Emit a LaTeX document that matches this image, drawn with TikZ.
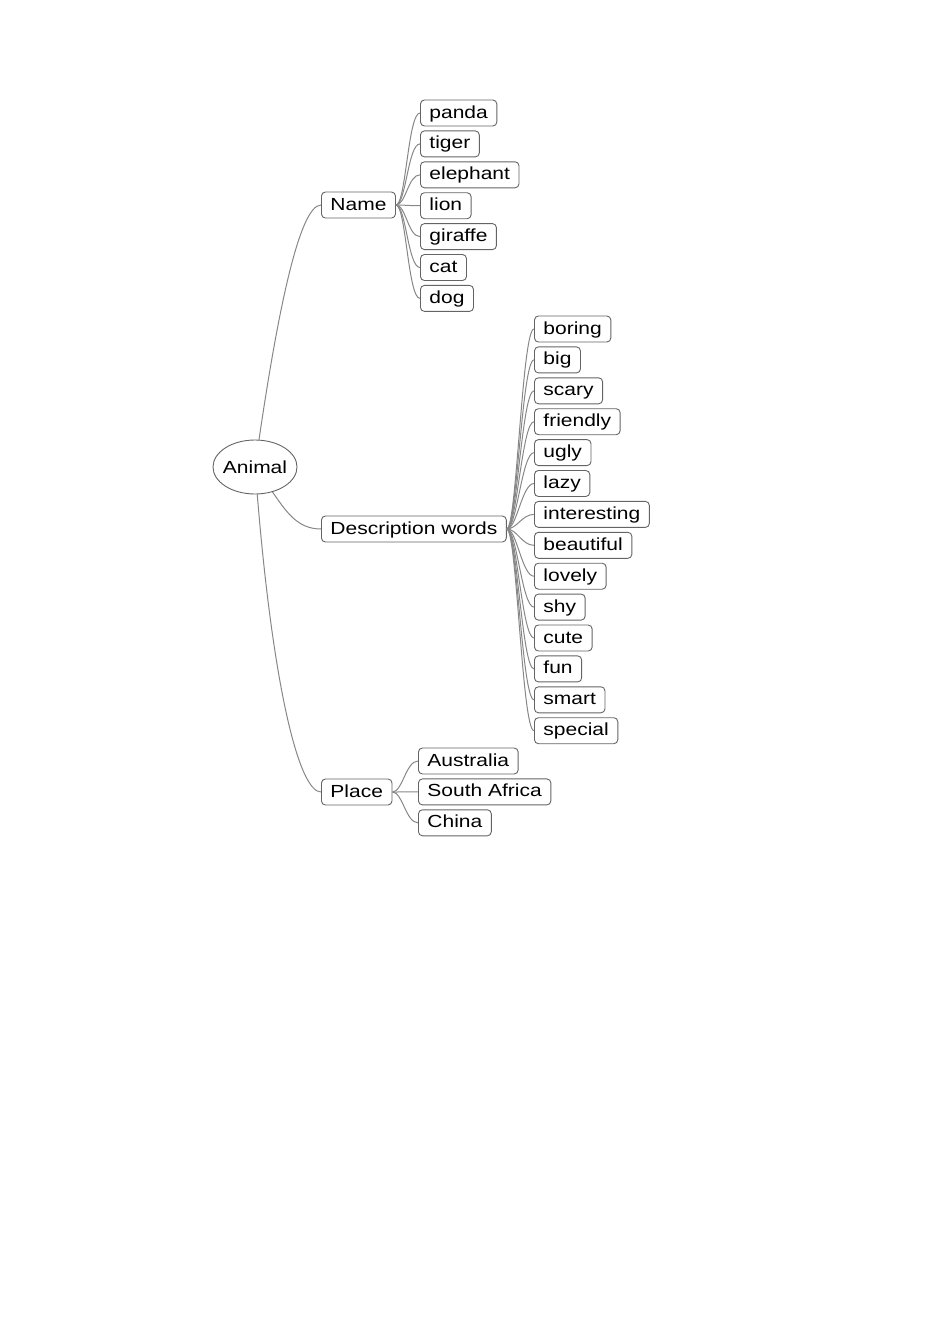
\documentclass[tikz,border=0pt]{standalone}
\usepackage{fontspec}
\newfontfamily\mapfont{Liberation Sans}[FakeStretch=1.2]
\usepackage{tikz}
\usetikzlibrary{shapes.geometric, calc, positioning}
\definecolor{boxgray}{RGB}{100,100,100}
\definecolor{linegray}{RGB}{135,135,135}
\tikzstyle{topic} = [rectangle, rounded corners=4pt, draw=boxgray, line width=0.9pt, anchor=west, minimum height=26pt, inner xsep=9pt, inner ysep=4pt, text height=14pt, text depth=4pt, font=\mapfont\fontsize{17.5}{20}\selectfont]
\tikzstyle{root} = [ellipse, draw=boxgray, line width=0.9pt, minimum width=84pt, minimum height=54pt, inner xsep=-2.5pt, inner ysep=0pt, font=\mapfont\fontsize{17.5}{20}\selectfont]
\tikzstyle{branch} = [linegray, line width=1pt, to path={.. controls +(10,0) and +(-12,0) .. (\tikztotarget)}]
\tikzstyle{trunk} = [linegray, line width=1pt]

\begin{document}
\begin{tikzpicture}[x=1pt, y=1pt, node distance = 4pt]
		\useasboundingbox (0,0) rectangle (950,-1344);
		\node (Animal) [root] at (255,-467) {Animal};
		\node (Name) [topic] at (321,-205) {Name};
		\node (Description) [topic] at (321,-529) {Description words};
		\node (Place) [topic] at (321,-792) {Place};
		% Name
		\node (Panda) [topic] at (420,-113) {panda};
		\node (Tiger) [topic, below = of Panda.south west, anchor=north west] {tiger};
		\node (Elephant) [topic, below = of Tiger.south west, anchor=north west] {elephant};
		\node (Lion) [topic, below = of Elephant.south west, anchor=north west] {lion};
		\node (Giraffe) [topic, below = of Lion.south west, anchor=north west] {giraffe};
		\node (Cat) [topic, below = of Giraffe.south west, anchor=north west] {cat};
		\node (Dog) [topic, below = of Cat.south west, anchor=north west] {dog};
		% Description words
		\node (Boring) [topic] at (534,-329) {boring};
		\node (Big) [topic, below = of Boring.south west, anchor=north west] {big};
		\node (Scary) [topic, below = of Big.south west, anchor=north west] {scary};
		\node (Friendly) [topic, below = of Scary.south west, anchor=north west] {friendly};
		\node (Ugly) [topic, below = of Friendly.south west, anchor=north west] {ugly};
		\node (Lazy) [topic, below = of Ugly.south west, anchor=north west] {lazy};
		\node (Interesting) [topic, below = of Lazy.south west, anchor=north west] {interesting};
		\node (Beautiful) [topic, below = of Interesting.south west, anchor=north west] {beautiful};
		\node (Lovely) [topic, below = of Beautiful.south west, anchor=north west] {lovely};
		\node (Shy) [topic, below = of Lovely.south west, anchor=north west] {shy};
		\node (Cute) [topic, below = of Shy.south west, anchor=north west] {cute};
		\node (Fun) [topic, below = of Cute.south west, anchor=north west] {fun};
		\node (Smart) [topic, below = of Fun.south west, anchor=north west] {smart};
		\node (Special) [topic, below = of Smart.south west, anchor=north west] {special};
		% Place
		\node (Australia) [topic] at (418,-761) {Australia};
		\node (SouthAfrica) [topic, below = of Australia.south west, anchor=north west] {South Africa};
		\node (China) [topic, below = of SouthAfrica.south west, anchor=north west] {China};
		% main branches
		\draw [trunk] (Animal) .. controls +(22,150) and +(-22,0) .. (Name.west);
		\draw [trunk] (Animal) to[out=-55, in=180] (Description.west);
		\draw [trunk] (Animal) .. controls +(18,-220) and +(-22,0) .. (Place.west);
		% sub branches
		\draw [branch] (Name.east) to (Panda.west);
		\draw [branch] (Name.east) to (Tiger.west);
		\draw [branch] (Name.east) to (Elephant.west);
		\draw [branch] (Name.east) to (Lion.west);
		\draw [branch] (Name.east) to (Giraffe.west);
		\draw [branch] (Name.east) to (Cat.west);
		\draw [branch] (Name.east) to (Dog.west);
		\draw [branch] (Description.east) to (Boring.west);
		\draw [branch] (Description.east) to (Big.west);
		\draw [branch] (Description.east) to (Scary.west);
		\draw [branch] (Description.east) to (Friendly.west);
		\draw [branch] (Description.east) to (Ugly.west);
		\draw [branch] (Description.east) to (Lazy.west);
		\draw [branch] (Description.east) to (Interesting.west);
		\draw [branch] (Description.east) to (Beautiful.west);
		\draw [branch] (Description.east) to (Lovely.west);
		\draw [branch] (Description.east) to (Shy.west);
		\draw [branch] (Description.east) to (Cute.west);
		\draw [branch] (Description.east) to (Fun.west);
		\draw [branch] (Description.east) to (Smart.west);
		\draw [branch] (Description.east) to (Special.west);
		\draw [branch] (Place.east) to (Australia.west);
		\draw [branch] (Place.east) to (SouthAfrica.west);
		\draw [branch] (Place.east) to (China.west);
\end{tikzpicture}
\end{document}
